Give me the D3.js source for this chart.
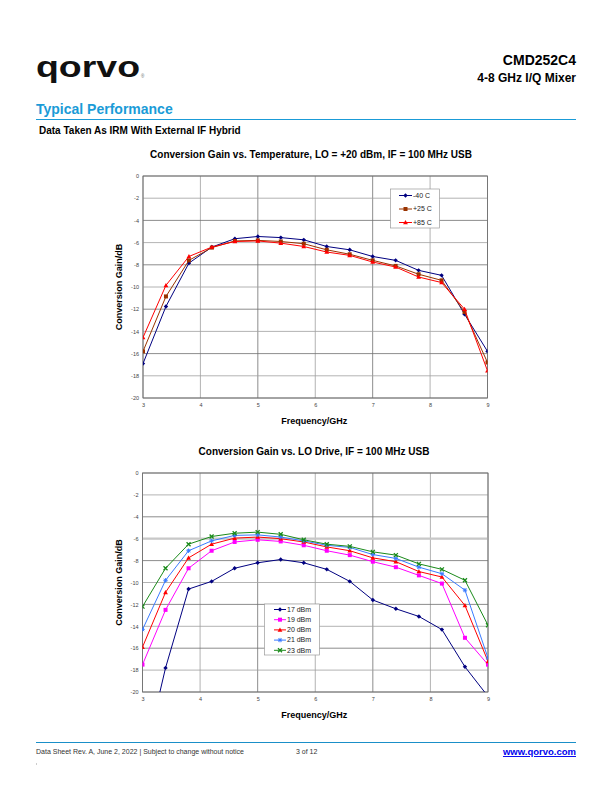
<!DOCTYPE html>
<html><head><meta charset="utf-8">
<script src="https://cdn.jsdelivr.net/npm/d3@7/dist/d3.min.js"></script>
<style>body{margin:0;background:#fff}svg{display:block}text{font-family:"Liberation Sans",Arial,sans-serif}</style>
</head><body>
<script>
const freqs = [3,3.4,3.8,4.2,4.6,5,5.4,5.8,6.2,6.6,7,7.4,7.8,8.2,8.6,9];
const xTicks = [3,4,5,6,7,8,9];
const yTicks = [0,-2,-4,-6,-8,-10,-12,-14,-16,-18,-20];

const tempLabels = ["-40 C","+25 C","+85 C"];
const gainM40 = [-16.9,-11.75,-7.85,-6.4,-5.65,-5.45,-5.55,-5.75,-6.35,-6.65,-7.25,-7.6,-8.5,-8.95,-12.45,-15.8];
const gain25  = [-15.8,-10.85,-7.6,-6.45,-5.85,-5.8,-5.9,-6.1,-6.65,-7.05,-7.6,-8.1,-8.85,-9.4,-12.25,-16.8];
const gain85  = [-14.55,-9.85,-7.25,-6.4,-5.9,-5.85,-6.05,-6.35,-6.85,-7.15,-7.75,-8.2,-9.1,-9.6,-12.0,-17.55];

const loLabels = ["17 dBm","19 dBm","20 dBm","21 dBm","23 dBm"];
const gainLO17 = [-26.8,-17.8,-10.6,-9.9,-8.7,-8.2,-7.9,-8.2,-8.8,-9.9,-11.6,-12.4,-13.1,-14.3,-17.7,-20.4];
const gainLO19 = [-17.5,-12.5,-8.7,-7.1,-6.3,-6.1,-6.25,-6.6,-7.1,-7.5,-8.1,-8.6,-9.35,-10.1,-15.05,-17.5];
const gainLO20 = [-15.9,-10.9,-7.75,-6.5,-5.95,-5.85,-6.0,-6.3,-6.75,-7.1,-7.75,-8.1,-9.0,-9.5,-12.1,-17.2];
const gainLO21 = [-14.3,-9.8,-7.1,-6.2,-5.7,-5.65,-5.85,-6.2,-6.6,-6.8,-7.45,-7.8,-8.6,-9.2,-10.7,-16.9];
const gainLO23 = [-12.2,-8.7,-6.5,-5.8,-5.5,-5.4,-5.6,-6.1,-6.5,-6.7,-7.2,-7.5,-8.3,-8.8,-9.8,-13.9];

const W=612,H=792;
const svg=d3.select("body").append("svg").attr("width",W).attr("height",H);
const blue="#1a9bd7";

// Header
svg.append("text").attr("x",36).attr("y",76.5).attr("font-family","'DejaVu Sans', sans-serif")
  .attr("font-weight","bold").attr("font-size",29).attr("textLength",104).attr("lengthAdjust","spacingAndGlyphs")
  .attr("fill","#111").text("qorvo");
svg.append("text").attr("x",141).attr("y",78).attr("font-size",4.5).attr("fill","#666").text("®");
svg.append("text").attr("x",576).attr("y",65).attr("text-anchor","end").attr("font-weight","bold").attr("font-size",14).text("CMD252C4");
svg.append("text").attr("x",576).attr("y",81.5).attr("text-anchor","end").attr("font-weight","bold").attr("font-size",12).text("4-8 GHz I/Q Mixer");
svg.append("text").attr("x",36).attr("y",114).attr("font-weight","bold").attr("font-size",14).attr("fill",blue).text("Typical Performance");
svg.append("line").attr("x1",36).attr("x2",576).attr("y1",119.5).attr("y2",119.5).attr("stroke",blue).attr("stroke-width",1);
svg.append("text").attr("x",39).attr("y",134).attr("font-weight","bold").attr("font-size",10).text("Data Taken As IRM With External IF Hybrid");

// Footer
svg.append("line").attr("x1",36).attr("x2",576).attr("y1",742.5).attr("y2",742.5).attr("stroke","#1a8fc8").attr("stroke-width",1);
svg.append("text").attr("x",36).attr("y",754).attr("font-size",7).attr("fill","#333").text("Data Sheet Rev. A, June 2, 2022 | Subject to change without notice");
svg.append("text").attr("x",296).attr("y",754).attr("font-size",7).attr("fill","#333").text("3 of 12");
svg.append("text").attr("x",576).attr("y",755).attr("text-anchor","end").attr("font-weight","bold").attr("font-size",9.5)
  .attr("fill","#0000ee").attr("text-decoration","underline").text("www.qorvo.com");
svg.append("line").attr("x1",36.5).attr("x2",36.5).attr("y1",763).attr("y2",765).attr("stroke","#aaa").attr("stroke-width",0.6);

function marker(g,type,x,y,color){
  const s=2.2;
  if(type==="diamond"){g.append("path").attr("d",`M${x},${y-s}L${x+s},${y}L${x},${y+s}L${x-s},${y}Z`).attr("fill",color);}
  else if(type==="square"){g.append("rect").attr("x",x-2).attr("y",y-2).attr("width",4).attr("height",4).attr("fill",color);}
  else if(type==="triangle"){g.append("path").attr("d",`M${x},${y-2.4}L${x+2.4},${y+1.8}L${x-2.4},${y+1.8}Z`).attr("fill",color);}
  else if(type==="star"){g.append("path").attr("d",`M${x-2.2},${y}L${x+2.2},${y}M${x},${y-2.2}L${x},${y+2.2}M${x-1.6},${y-1.6}L${x+1.6},${y+1.6}M${x-1.6},${y+1.6}L${x+1.6},${y-1.6}`).attr("stroke",color).attr("stroke-width",1);}
  else if(type==="x"){g.append("path").attr("d",`M${x-2},${y-2}L${x+2},${y+2}M${x-2},${y+2}L${x+2},${y-2}`).attr("stroke",color).attr("stroke-width",1.3);}
}

function chart(cfg){
  const x=d3.scaleLinear().domain([3,9]).range([cfg.x0,cfg.x1]);
  const y=d3.scaleLinear().domain([-20,0]).range([cfg.y1,cfg.y0]);
  const g=svg.append("g");
  g.append("g").selectAll("line").data(xTicks).join("line")
    .attr("x1",d=>x(d)).attr("x2",d=>x(d)).attr("y1",cfg.y0).attr("y2",cfg.y1)
    .attr("stroke",(d,i)=>i%2? "#a0a0a0":"#707070").attr("stroke-width",0.8);
  g.append("g").selectAll("line").data(yTicks).join("line")
    .attr("x1",cfg.x0).attr("x2",cfg.x1).attr("y1",d=>y(d)).attr("y2",d=>y(d))
    .attr("stroke",(d,i)=>i%2? "#a0a0a0":"#707070").attr("stroke-width",0.8);
  if(cfg.highlight!==undefined){
    g.append("line").attr("x1",cfg.x0).attr("x2",cfg.x1).attr("y1",y(cfg.highlight)).attr("y2",y(cfg.highlight))
      .attr("stroke","#c8c8c8").attr("stroke-width",2.2);
  }
  g.append("rect").attr("x",cfg.x0).attr("y",cfg.y0).attr("width",cfg.x1-cfg.x0).attr("height",cfg.y1-cfg.y0)
    .attr("fill","none").attr("stroke","#707070").attr("stroke-width",0.8);
  const fmt=d=>String(d);
  const ya=d3.axisLeft(y).tickValues(yTicks).tickFormat(fmt).tickSize(0).tickPadding(4);
  const xa=d3.axisBottom(x).tickValues(xTicks).tickFormat(fmt).tickSize(0).tickPadding(5);
  const yg=g.append("g").attr("transform",`translate(${cfg.x0},0)`).call(ya);
  const xg=g.append("g").attr("transform",`translate(0,${cfg.y1})`).call(xa);
  [yg,xg].forEach(a=>{a.select(".domain").remove();a.selectAll("text").attr("font-size",5.5).attr("fill","#444").attr("font-family","Liberation Sans, Arial, sans-serif");});
  svg.append("text").attr("x",cfg.tx).attr("y",cfg.ty).attr("text-anchor","middle").attr("font-weight","bold").attr("font-size",10).text(cfg.title);
  svg.append("text").attr("x",(cfg.x0+cfg.x1)/2-1).attr("y",cfg.y1+26).attr("text-anchor","middle").attr("font-weight","bold").attr("font-size",9).text("Frequency/GHz");
  svg.append("text").attr("transform",`translate(122,${(cfg.y0+cfg.y1)/2}) rotate(-90)`).attr("text-anchor","middle")
    .attr("font-weight","bold").attr("font-size",9).text("Conversion Gain/dB");
  const clipId="clip"+cfg.id;
  svg.append("clipPath").attr("id",clipId).append("rect").attr("x",cfg.x0).attr("y",cfg.y0).attr("width",cfg.x1-cfg.x0).attr("height",cfg.y1-cfg.y0);
  const sg=svg.append("g").attr("clip-path",`url(#${clipId})`);
  const line=d3.line().x((d,i)=>x(freqs[i])).y(d=>y(d));
  cfg.series.forEach(s=>{
    sg.append("path").attr("d",line(s.values)).attr("fill","none").attr("stroke",s.color).attr("stroke-width",1);
    s.values.forEach((v,i)=>{ if(v>=-20) marker(sg,s.marker,x(freqs[i]),y(v),s.color); });
  });
  const L=cfg.legend;
  svg.append("rect").attr("x",L.x).attr("y",L.y).attr("width",L.w).attr("height",L.h).attr("fill","#fff").attr("stroke","#9a9a9a").attr("stroke-width",0.7);
  cfg.series.forEach((s,i)=>{
    const yy=L.y+L.first+i*L.step;
    svg.append("line").attr("x1",L.lx0).attr("x2",L.lx1).attr("y1",yy).attr("y2",yy).attr("stroke",s.color).attr("stroke-width",1);
    marker(svg,s.marker,(L.lx0+L.lx1)/2,yy,s.color);
    svg.append("text").attr("x",L.lx1+1).attr("y",yy+2.3).attr("font-size",7).attr("fill","#222").text(s.label);
  });
}

chart({id:1,x0:143,x1:487.5,y0:176,y1:398,tx:311,ty:158,
  title:"Conversion Gain vs. Temperature, LO = +20 dBm, IF = 100 MHz USB",
  series:[
    {label:tempLabels[0],values:gainM40,color:"#000080",marker:"diamond"},
    {label:tempLabels[1],values:gain25,color:"#993300",marker:"square"},
    {label:tempLabels[2],values:gain85,color:"#ff0000",marker:"triangle"}],
  legend:{x:390.5,y:189,w:49,h:39,first:6.5,step:13.5,lx0:399,lx1:412}
});

chart({id:2,x0:142.5,x1:488,y0:473,y1:692,tx:314,ty:455,highlight:-6,
  title:"Conversion Gain vs. LO Drive, IF = 100 MHz USB",
  series:[
    {label:loLabels[0],values:gainLO17,color:"#000080",marker:"diamond"},
    {label:loLabels[1],values:gainLO19,color:"#ff00ff",marker:"square"},
    {label:loLabels[2],values:gainLO20,color:"#ff0000",marker:"triangle"},
    {label:loLabels[3],values:gainLO21,color:"#3a7bff",marker:"star"},
    {label:loLabels[4],values:gainLO23,color:"#1a8a1a",marker:"x"}],
  legend:{x:264.5,y:604,w:55,h:51,first:5.5,step:10.2,lx0:274,lx1:286}
});
</script>
</body></html>
